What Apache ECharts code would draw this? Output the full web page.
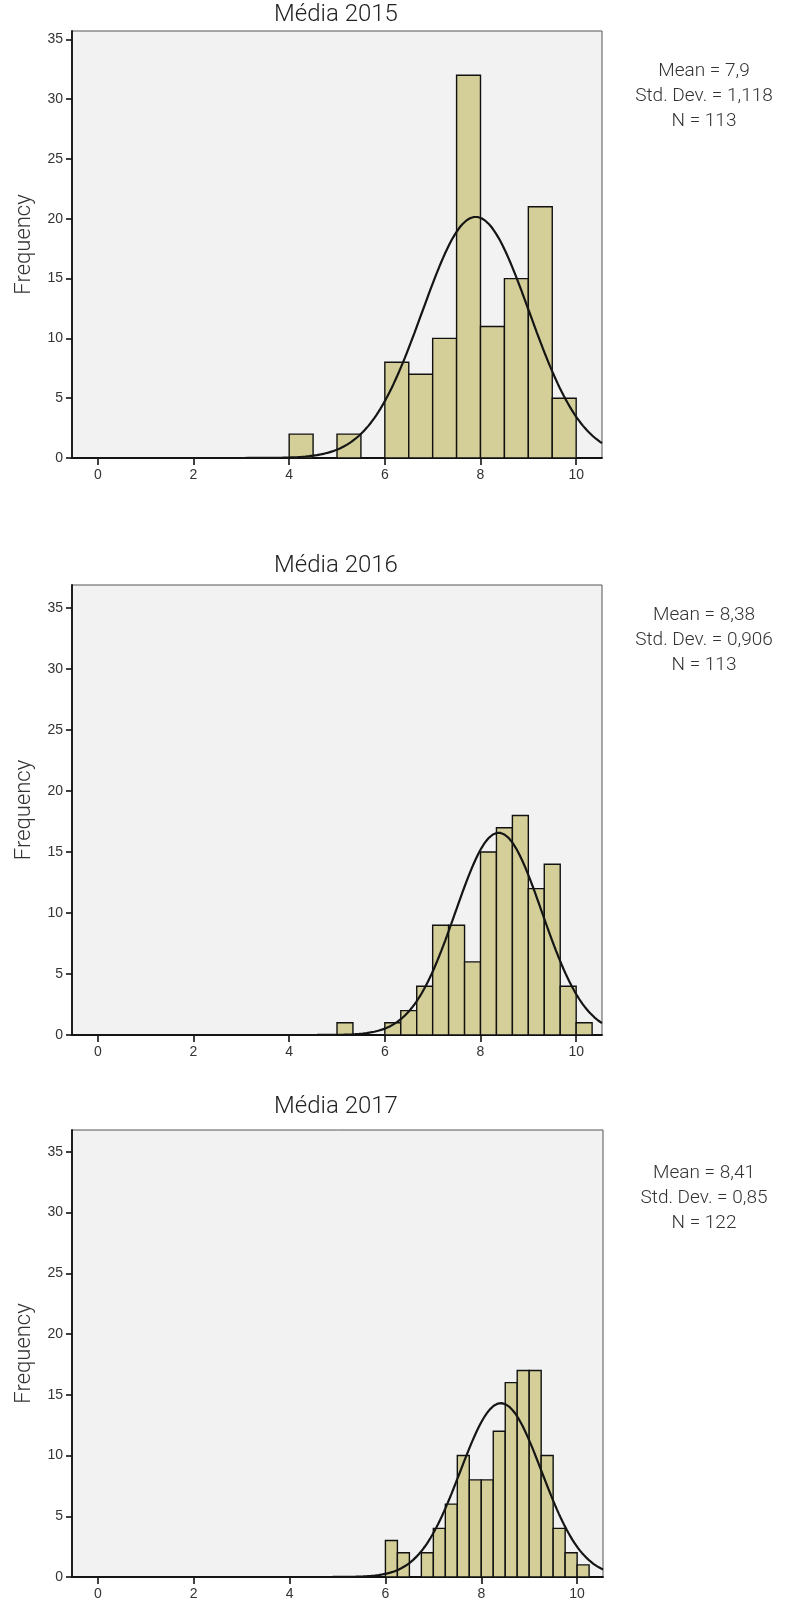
<!DOCTYPE html>
<html>
<head>
<meta charset="utf-8">
<script src="https://cdn.jsdelivr.net/npm/echarts@6/dist/echarts.min.js"></script>
<style>
  html, body { margin: 0; padding: 0; background: #fff; }
  #hist { width: 792px; height: 1603px; }
</style>
</head>
<body>
<div id="hist"></div>
<script>
// bin starts, counts and bin widths
const titles = ["Média 2015", "Média 2016", "Média 2017"];
const starts2015 = [4, 5, 6, 6.5, 7, 7.5, 8, 8.5, 9, 9.5];
const counts2015 = [2, 2, 8, 7, 10, 32, 11, 15, 21, 5];
const starts2016 = [5, 6, 6 + 1 / 3, 6 + 2 / 3, 7, 7 + 1 / 3, 7 + 2 / 3, 8, 8 + 1 / 3, 8 + 2 / 3, 9, 9 + 1 / 3, 9 + 2 / 3, 10];
const counts2016 = [1, 1, 2, 4, 9, 9, 6, 15, 17, 18, 12, 14, 4, 1];
const starts2017 = [6, 6.25, 6.75, 7, 7.25, 7.5, 7.75, 8, 8.25, 8.5, 8.75, 9, 9.25, 9.5, 9.75, 10];
const counts2017 = [3, 2, 2, 4, 6, 10, 8, 8, 12, 16, 17, 17, 10, 4, 2, 1];
const binWidths = [0.5, 1 / 3, 0.25];
// fit statistics printed beside each panel
const means = [7.9, 8.38, 8.41];
const stdDevs = [1.118, 0.906, 0.85];
const ns = [113, 113, 122];
const statLabels = [
  ["Mean = 7,9", "Std. Dev. = 1,118", "N = 113"],
  ["Mean = 8,38", "Std. Dev. = 0,906", "N = 113"],
  ["Mean = 8,41", "Std. Dev. = 0,85", "N = 122"]
];
const yTicks = [0, 5, 10, 15, 20, 25, 30, 35];
const xTicks = [0, 2, 4, 6, 8, 10];

const allStarts = [starts2015, starts2016, starts2017];
const allCounts = [counts2015, counts2016, counts2017];

// panel layout
const grids = [
  { left: 72, top: 31, width: 530, height: 427, yMax: 35.7, titleY: 15, statY: 71 },
  { left: 72, top: 585, width: 530, height: 450, yMax: 36.9, titleY: 566, statY: 615 },
  { left: 72, top: 1130, width: 531, height: 447, yMax: 36.8, titleY: 1107, statY: 1173 }
];
const xMin = -0.54, xMax = 10.54;
const barColor = "#d4cf98";
const font = "Roboto";

const chart = echarts.init(document.getElementById("hist"));

function renderBar(params, api) {
  const p0 = api.coord([api.value(0), api.value(2)]);
  const p1 = api.coord([api.value(1), 0]);
  return {
    type: "rect",
    shape: { x: p0[0], y: p0[1], width: p1[0] - p0[0], height: p1[1] - p0[1] },
    style: { fill: barColor, stroke: "#111", lineWidth: 1.4 }
  };
}

function normalCurve(i) {
  const pts = [];
  const k = ns[i] * binWidths[i] / (stdDevs[i] * Math.sqrt(2 * Math.PI));
  for (let x = xMin; x <= xMax + 1e-9; x += 0.04) {
    const z = (x - means[i]) / stdDevs[i];
    pts.push([x, k * Math.exp(-0.5 * z * z)]);
  }
  return pts;
}

const gridOpts = [], xAxes = [], yAxes = [], series = [], graphics = [];
grids.forEach((g, i) => {
  gridOpts.push({
    left: g.left, top: g.top, width: g.width, height: g.height,
    show: true, backgroundColor: "#f2f2f2", borderColor: "#555", borderWidth: 1
  });
  xAxes.push({
    gridIndex: i, type: "value", min: xMin, max: xMax,
    axisLine: { show: true, onZero: false, lineStyle: { color: "#111", width: 1.8 } },
    axisTick: { show: true, length: 7, customValues: xTicks, lineStyle: { color: "#111", width: 1.6 } },
    axisLabel: { customValues: xTicks, margin: 10, fontSize: 14, color: "#333", fontFamily: "Liberation Sans" },
    splitLine: { show: false }
  });
  yAxes.push({
    gridIndex: i, type: "value", min: 0, max: g.yMax,
    axisLine: { show: true, onZero: false, lineStyle: { color: "#111", width: 1.8 } },
    axisTick: { show: true, length: 6, customValues: yTicks, lineStyle: { color: "#111", width: 1.6 } },
    axisLabel: { customValues: yTicks, margin: 9, fontSize: 14, color: "#333", fontFamily: "Liberation Sans" },
    splitLine: { show: false }
  });
  series.push({
    type: "custom", xAxisIndex: i, yAxisIndex: i,
    renderItem: renderBar,
    encode: { x: [0, 1], y: 2 },
    data: allStarts[i].map((s, j) => [s, s + binWidths[i], allCounts[i][j]]),
    z: 2
  });
  series.push({
    type: "line", xAxisIndex: i, yAxisIndex: i,
    showSymbol: false, smooth: false,
    lineStyle: { color: "#151515", width: 2.2 },
    data: normalCurve(i),
    z: 3
  });
  graphics.push({
    type: "text", x: 336, y: g.titleY,
    style: { text: titles[i], font: "300 24px " + font, fill: "#222", align: "center", verticalAlign: "middle" }
  });
  graphics.push({
    type: "text", x: 24, y: g.top + g.height / 2, rotation: Math.PI / 2,
    style: { text: "Frequency", font: "300 22px " + font, fill: "#333", align: "center", verticalAlign: "middle" }
  });
  graphics.push({
    type: "text", x: 704, y: g.statY - 12,
    style: { text: statLabels[i].join("\n"), font: "300 19px " + font, lineHeight: 25, fill: "#333", align: "center", verticalAlign: "top" }
  });
});

chart.setOption({
  animation: false,
  backgroundColor: "#fff",
  grid: gridOpts,
  xAxis: xAxes,
  yAxis: yAxes,
  series: series,
  graphic: graphics
});
</script>
</body>
</html>
